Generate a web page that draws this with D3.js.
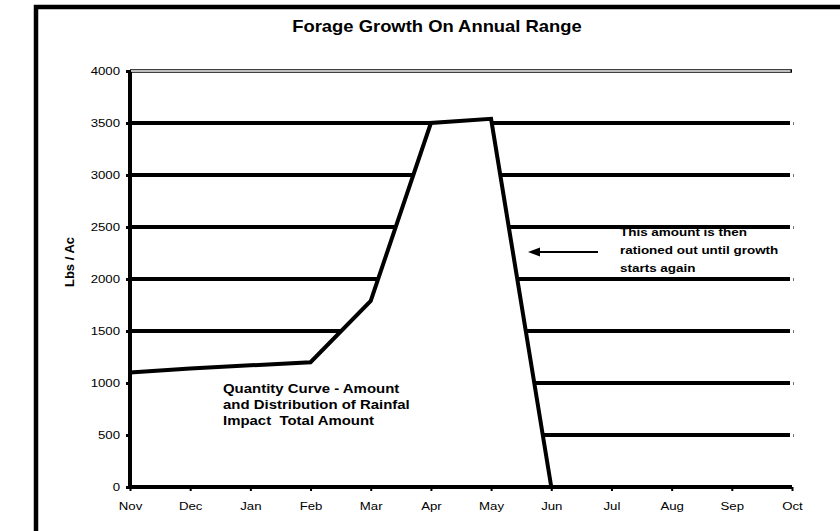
<!DOCTYPE html>
<html>
<head>
<meta charset="utf-8">
<script src="https://cdn.jsdelivr.net/npm/d3@7"></script>
<style>
  body { margin: 0; background: #fff; }
  svg { display: block; font-family: "Liberation Sans", Arial, sans-serif; }
  text { white-space: pre; }
</style>
</head>
<body>
<div id="container"></div>
<script>
// chart values
var months = ["Nov", "Dec", "Jan", "Feb", "Mar", "Apr", "May", "Jun", "Jul", "Aug", "Sep", "Oct"];
var growthMonths = ["Nov", "Dec", "Jan", "Feb", "Mar", "Apr", "May", "Jun"];
var growthLbs = [1100, 1140, 1170, 1200, 1790, 3500, 3540, 0];
var yTicks = [0, 500, 1000, 1500, 2000, 2500, 3000, 3500, 4000];
var quantityNote = ["Quantity Curve - Amount", "and Distribution of Rainfal", "Impact  Total Amount"];
var rationNote = ["This amount is then", "rationed out until growth", "starts again"];

var width = 840, height = 531;
var stretch = 1.15; // text in the original is a bit wide

var svg = d3.select("#container")
    .append("svg")
    .attr("width", width)
    .attr("height", height)

// outer chart border, runs off the right and bottom edge
svg.append("rect")
  .attr("x", 36)
  .attr("y", 7)
  .attr("width", 830)
  .attr("height", 540)
  .attr("fill", "none")
  .attr("stroke", "#000")
  .attr("stroke-width", 4.5)

var x = d3.scalePoint()
    .domain(months)
    .range([130, 792])

var y = d3.scaleLinear()
    .domain([0, 4000])
    .range([487, 71])

function wideText(g, tx, ty, str, size, anchor, weight) {
  return g.append("text")
    .attr("transform", "translate(" + tx + "," + ty + ") scale(" + stretch + ",1)")
    .attr("text-anchor", anchor)
    .attr("font-size", size)
    .attr("font-weight", weight || "normal")
    .attr("fill", "#000")
    .text(str)
}

// title
wideText(svg, 437, 32, "Forage Growth On Annual Range", 16, "middle", "bold")

// y axis title
svg.append("text")
  .attr("transform", "translate(74,262) rotate(-90)")
  .attr("text-anchor", "middle")
  .attr("font-size", 13)
  .attr("font-weight", "bold")
  .text("Lbs / Ac")

// arrow note sits under the gridlines
rationNote.forEach(function (line, i) {
  wideText(svg, 620, 236 + i * 18, line, 11.7, "start", "bold")
})

// gridlines
svg.append("g")
  .selectAll("line")
  .data(yTicks.filter(function (d) { return d > 0 && d < 4000; }))
  .enter()
  .append("line")
  .attr("x1", 130)
  .attr("x2", 790)
  .attr("y1", function (d) { return y(d); })
  .attr("y2", function (d) { return y(d); })
  .attr("stroke", "#000")
  .attr("stroke-width", 4)

// top edge of plot is a double line
svg.append("line")
  .attr("x1", 130).attr("x2", 792)
  .attr("y1", y(4000)).attr("y2", y(4000))
  .attr("stroke", "#000").attr("stroke-width", 3.5)
svg.append("line")
  .attr("x1", 131).attr("x2", 790.5)
  .attr("y1", y(4000)).attr("y2", y(4000))
  .attr("stroke", "#fff").attr("stroke-width", 1.3)

// tiny marks at right end of gridlines
var right = svg.append("g")
    .attr("transform", "translate(793,0)")
    .call(d3.axisRight(y).tickValues(yTicks.slice(1, 8)).tickSize(1).tickFormat(""))
right.select(".domain").remove()
right.selectAll(".tick line").attr("stroke", "#777").attr("stroke-width", 3)

// white area under the curve hides the gridlines
var pts = growthMonths.map(function (m, i) { return {m: m, v: growthLbs[i]}; })

svg.append("path")
  .datum(pts)
  .attr("fill", "#fff")
  .attr("d", d3.area()
        .x(function (d) { return x(d.m); })
        .y0(y(0))
        .y1(function (d) { return y(d.v); }))

svg.append("path")
  .datum(pts)
  .attr("fill", "none")
  .attr("stroke", "#000")
  .attr("stroke-width", 4)
  .attr("stroke-linejoin", "miter")
  .attr("d", d3.line()
        .x(function (d) { return x(d.m); })
        .y(function (d) { return y(d.v); }))

// axes
var yAxis = svg.append("g")
    .attr("transform", "translate(130,0)")
    .call(d3.axisLeft(y).tickValues(yTicks).tickFormat(d3.format("d")).tickSize(4).tickPadding(6))
yAxis.select(".domain").remove()
yAxis.selectAll(".tick line").attr("stroke", "#000").attr("stroke-width", 3)
yAxis.selectAll(".tick text")
  .attr("font-size", 11.5)
  .attr("font-family", "Liberation Sans, Arial, sans-serif")
  .attr("fill", "#000")
  .attr("transform", "scale(" + stretch + ",1)")
  .attr("x", -10 / stretch)

var xAxis = svg.append("g")
    .attr("transform", "translate(0,487)")
    .call(d3.axisBottom(x).tickSize(4).tickPadding(11))
xAxis.select(".domain").remove()
xAxis.selectAll(".tick line").attr("stroke", "#000").attr("stroke-width", 2)
xAxis.selectAll(".tick text")
  .attr("font-size", 11.5)
  .attr("font-family", "Liberation Sans, Arial, sans-serif")
  .attr("fill", "#000")
  .attr("transform", "scale(" + stretch + ",1)")

svg.append("line")
  .attr("x1", 130).attr("x2", 130)
  .attr("y1", y(4000) + 1).attr("y2", y(0) + 2)
  .attr("stroke", "#000").attr("stroke-width", 4)
svg.append("line")
  .attr("x1", 128).attr("x2", 792)
  .attr("y1", y(0)).attr("y2", y(0))
  .attr("stroke", "#000").attr("stroke-width", 4)

// note under the curve
quantityNote.forEach(function (line, i) {
  wideText(svg, 223, 393 + i * 16, line, 13, "start", "bold")
})

// arrow pointing at the falling curve
svg.append("line")
  .attr("x1", 598).attr("x2", 536)
  .attr("y1", 252).attr("y2", 252)
  .attr("stroke", "#000").attr("stroke-width", 2)
svg.append("path")
  .attr("d", d3.line()([[528, 252], [540, 247.5], [540, 256.5]]) + "Z")
  .attr("fill", "#000")
</script>
</body>
</html>
